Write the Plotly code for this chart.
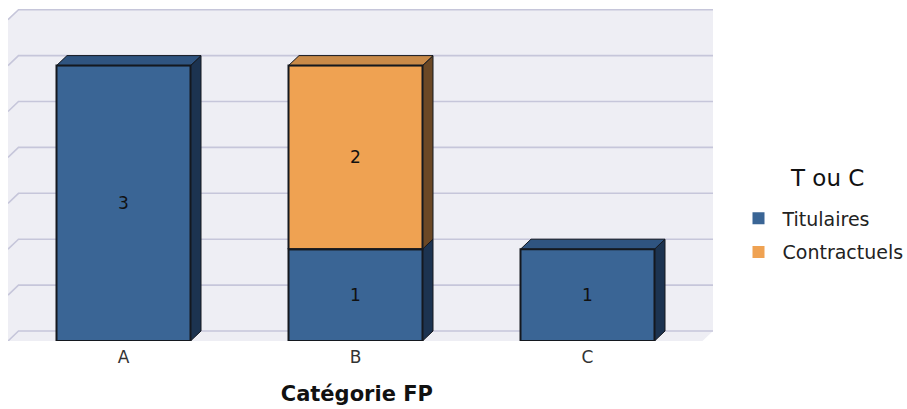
import plotly.graph_objects as go

categories = ["A", "B", "C"]
titulaires = [3, 1, 1]
contractuels = [None, 2, None]
y_ticks = [0, 0.5, 1, 1.5, 2, 2.5, 3, 3.5]
series_names = ["Titulaires", "Contractuels"]

FONT = "DejaVu Sans"
BLUE, BLUE_TOP, BLUE_SIDE = "#3a6595", "#2f5480", "#1c3350"
ORANGE, ORANGE_TOP, ORANGE_SIDE = "#efa252", "#c98a48", "#6b4825"
WALL, GRID = "#eeeef4", "#c6c6da"
EDGE = "#14181f"

# pixel frame of the plot
W, H = 907, 409
L, R, T, B = 8, 713, 8, 341
PX_PER_CAT = 232
PX_PER_UNIT = 91.8
CENTER_A = 123.5
BAR_W = 134 / PX_PER_CAT
DX = 10.5 / PX_PER_CAT
DY = 10 / PX_PER_UNIT
x_range = [(L - CENTER_A) / PX_PER_CAT, (R - CENTER_A) / PX_PER_CAT]
y_range = [0, (B - T) / PX_PER_UNIT]
xs = list(range(len(categories)))

fig = go.Figure()


def face(px, py, color, width=1):
    fig.add_trace(go.Scatter(
        x=px, y=py, mode="lines", fill="toself", fillcolor=color,
        line=dict(color=EDGE, width=width),
        showlegend=False, hoverinfo="skip"))


def side_face(x, y0, y1, color):
    e = x + BAR_W / 2
    face([e, e + DX, e + DX, e, e], [y0, y0 + DY, y1 + DY, y1, y0], color)


def top_face(x, y, color):
    a, b = x - BAR_W / 2, x + BAR_W / 2
    face([a, b, b + DX, a + DX, a], [y, y, y + DY, y + DY, y], color)


def front_outline(x, y0, y1):
    a, b = x - BAR_W / 2, x + BAR_W / 2
    fig.add_trace(go.Scatter(
        x=[a, b, b, a, a], y=[y0, y0, y1, y1, y0], mode="lines",
        line=dict(color=EDGE, width=2), showlegend=False, hoverinfo="skip"))


for x, t, c in zip(xs, titulaires, contractuels):
    side_face(x, 0, t, BLUE_SIDE)
    if c:
        side_face(x, t, t + c, ORANGE_SIDE)
        top_face(x, t + c, ORANGE_TOP)
    else:
        top_face(x, t, BLUE_TOP)

for name, vals, color in zip(series_names, [titulaires, contractuels], [BLUE, ORANGE]):
    fig.add_trace(go.Bar(
        x=xs, y=vals, name=name, width=BAR_W, legendgroup=name,
        marker=dict(color=color, line=dict(width=0)),
        text=vals, textposition="inside", insidetextanchor="middle", textangle=0,
        textfont=dict(family=FONT, size=17, color="#111111"),
        hoverinfo="x+y+name"))

for x, t, c in zip(xs, titulaires, contractuels):
    front_outline(x, 0, t)
    if c:
        front_outline(x, t, t + c)

# back wall, gridlines and the slanted ticks, tied to the axes
wall_top = y_ticks[-1] + DY
wall = (f"M {x_range[0]} 0 L {x_range[0]} {y_ticks[-1]} L {x_range[0] + DX} {wall_top} "
        f"L {x_range[1]} {wall_top} L {x_range[1]} {DY} L {x_range[1] - DX} 0 Z")
shapes = [dict(type="path", path=wall, xref="x", yref="y", layer="below",
               fillcolor=WALL, line=dict(width=0))]
for v in y_ticks:
    shapes.append(dict(
        type="path", xref="x", yref="y", layer="below",
        path=(f"M {x_range[0]} {v} L {x_range[0] + DX} {v + DY} L {x_range[1]} {v + DY}"),
        line=dict(color=GRID, width=1.6)))

plot_w, plot_h = R - L, B - T
fig.update_layout(
    width=W, height=H, barmode="stack", autosize=False,
    margin=dict(l=L, r=W - R, t=T, b=H - B, pad=0),
    paper_bgcolor="white", plot_bgcolor="white",
    font=dict(family=FONT, color="#222222"),
    shapes=shapes,
    xaxis=dict(range=x_range, tickmode="array", tickvals=xs, ticktext=categories,
               showgrid=False, zeroline=False, showline=False, ticks="",
               ticklabelstandoff=4,
               tickfont=dict(size=17, color="#333333"),
               title=dict(text="<b>Catégorie FP\u00a0</b>", font=dict(size=21, color="#111111"), standoff=20)),
    yaxis=dict(range=y_range, showgrid=False, zeroline=False, showline=False,
               showticklabels=False, ticks=""),
    legend=dict(xref="container", yref="container",
                x=(743 - 8.5) / W, xanchor="left", y=1 - 199.5 / H, yanchor="top",
                font=dict(size=19, color="#222222"),
                itemwidth=38,
                traceorder="grouped", tracegroupgap=6,
                itemclick=False, itemdoubleclick=False, bgcolor="rgba(0,0,0,0)"),
    annotations=[dict(text="T ou C", xref="paper", yref="paper",
                      x=(827 - L) / plot_w, y=1 - (178 - T) / plot_h,
                      xanchor="center", yanchor="middle", showarrow=False,
                      font=dict(size=23, color="#111111"))],
)

fig.write_html("out.html", post_script="document.body.style.margin='0';",
               config={"displayModeBar": False})
